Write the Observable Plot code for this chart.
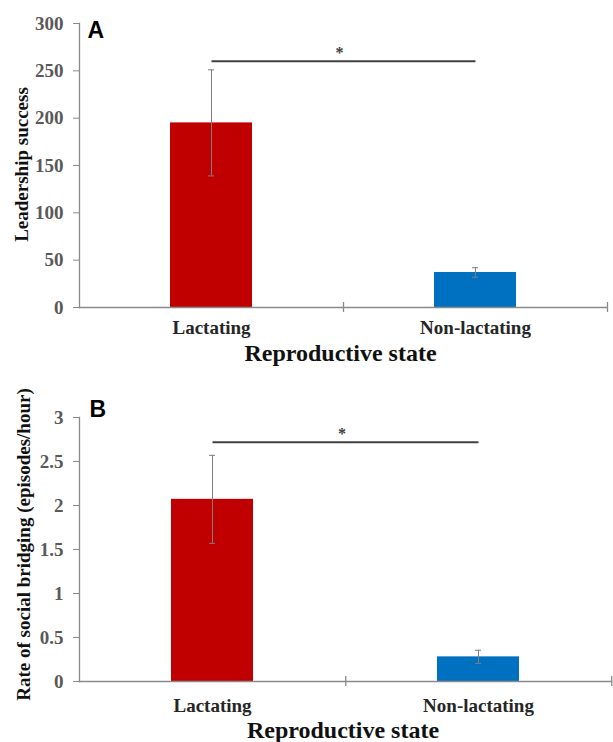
<!DOCTYPE html>
<html><head><meta charset="utf-8">
<script src="https://cdn.jsdelivr.net/npm/d3@7"></script>
<script src="https://cdn.jsdelivr.net/npm/@observablehq/plot@0.6"></script>
<style>body{margin:0;background:#fff;} #chart svg{display:block}</style>
</head><body><div id="chart"></div>
<script>
const categories = ["Lactating", "Non-lactating"];
const barColors = ["#C00000", "#0070C0"];
const leadershipMean = [195, 37];
const leadershipSE = [56, 5];
const bridgingMean = [2.07, 0.28];
const bridgingSE = [0.5, 0.075];
const leadershipTicks = [0, 50, 100, 150, 200, 250, 300];
const bridgingTicks = [0, 0.5, 1, 1.5, 2, 2.5, 3];
const leadershipSig = 260;
const bridgingSig = 2.72;
const xTitle = "Reproductive state";
const leadershipTitle = "Leadership success";
const bridgingTitle = "Rate of social bridging (episodes/hour)";

function panel(o) {
  const rows = categories.map((c, i) => ({cat: c, mean: o.means[i], se: o.ses[i], color: barColors[i]}));
  const W = 613, ML = 79;
  const step = (W - ML - o.marginRight) / categories.length;
  const grey = "#8a8a8a";
  return Plot.plot({
    width: W, height: o.height,
    marginLeft: ML, marginRight: o.marginRight, marginTop: o.marginTop, marginBottom: o.marginBottom,
    style: {fontFamily: "'Liberation Serif', 'Times New Roman', serif", fontWeight: "bold", fontSize: "18px", overflow: "visible"},
    x: {domain: categories, paddingInner: 0.69, paddingOuter: 0.345, label: null},
    y: {domain: [0, o.ticks[o.ticks.length - 1]], label: null},
    marks: [
      Plot.barY(rows, {x: "cat", y: "mean", fill: "color"}),
      Plot.ruleX(rows, {x: "cat", y1: d => d.mean - d.se, y2: d => d.mean + d.se, stroke: "#7f7f7f", strokeWidth: 1}),
      Plot.tickY(rows, {x: "cat", y: d => d.mean + d.se, stroke: "#7f7f7f", strokeWidth: 1, insetLeft: 38, insetRight: 38}),
      Plot.tickY(rows, {x: "cat", y: d => d.mean - d.se, stroke: "#7f7f7f", strokeWidth: 1, insetLeft: 38, insetRight: 38}),
      Plot.frame({anchor: "left", stroke: grey, strokeWidth: 1.3}),
      Plot.ruleY([0], {stroke: grey, strokeWidth: 1.3}),
      Plot.ruleX(categories, {x: d => d, y1: 0, y2: 0, dx: step / 2, insetTop: -5, insetBottom: -5, stroke: grey, strokeWidth: 1.3}),
      Plot.axisY({ticks: o.ticks, tickFormat: d => String(d), tickSize: 6, tickPadding: 10, stroke: grey, fill: "#595959", fontSize: 19, fontWeight: "bold", label: null}),
      Plot.axisX({tickSize: 0, tickPadding: o.tickPad, fill: "#262626", fontSize: 19, fontWeight: "bold", label: null}),
      Plot.link([o.sig], {x1: () => categories[0], x2: () => categories[1], y1: d => d, y2: d => d, stroke: "#404040", strokeWidth: 2}),
      Plot.text([o.sig], {y: d => d, text: () => "*", frameAnchor: "middle", dx: -4, dy: -3, lineAnchor: "bottom", fontSize: 16, fill: "#404040"}),
      Plot.text([xTitle], {text: d => d, frameAnchor: "bottom", dx: -3, dy: o.titleDy, lineAnchor: "bottom", fontSize: 24, fontWeight: "bold", fill: "#111"}),
      Plot.text([o.yTitle], {text: d => d, frameAnchor: "left", textAnchor: "middle", rotate: -90, dx: o.yTitleDx, dy: o.yTitleDy, lineAnchor: "middle", fontSize: 19, fontWeight: "bold", fill: "#111"}),
      Plot.text([o.letter], {text: d => d, frameAnchor: "top-left", dx: o.letterDx, dy: o.letterDy, lineAnchor: "top", textAnchor: "start", fontSize: 23, fontFamily: "'Liberation Sans', Arial, sans-serif", fontWeight: "bold", fill: "#000"})
    ]
  });
}

const chart = document.getElementById("chart");
chart.appendChild(panel({
  letter: "A", means: leadershipMean, ses: leadershipSE, ticks: leadershipTicks, sig: leadershipSig,
  yTitle: leadershipTitle, height: 362, marginTop: 23, marginBottom: 55, marginRight: 6,
  tickPad: 13, titleDy: 53, yTitleDx: -58, yTitleDy: -1, letterDx: 8, letterDy: -2
}));
chart.appendChild(panel({
  letter: "B", means: bridgingMean, ses: bridgingSE, ticks: bridgingTicks, sig: bridgingSig,
  yTitle: bridgingTitle, height: 380, marginTop: 55, marginBottom: 61, marginRight: 1,
  tickPad: 17, titleDy: 56, yTitleDx: -56, yTitleDy: -5, letterDx: 10, letterDy: -17
}));
</script>
</body></html>
